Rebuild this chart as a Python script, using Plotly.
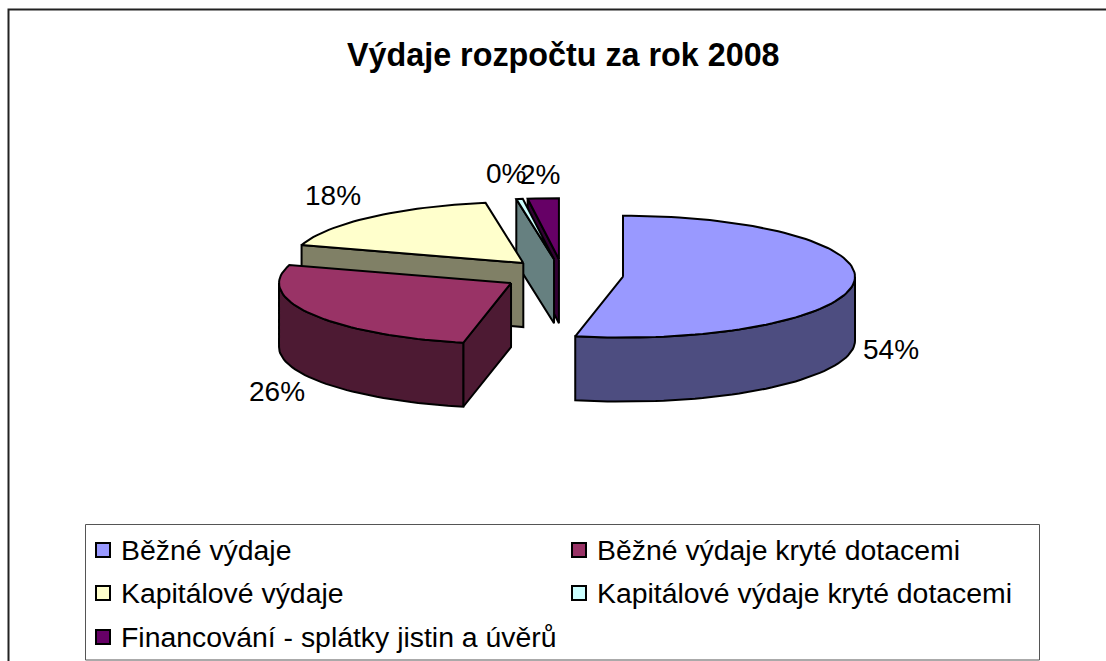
import math
import plotly.graph_objects as go

# ---- data ----
categories = ["Běžné výdaje", "Běžné výdaje kryté dotacemi", "Kapitálové výdaje",
              "Kapitálové výdaje kryté dotacemi", "Financování - splátky jistin a úvěrů"]
values = [53.3, 26.45, 17.65, 0.45, 2.15]
top_colors = ["#9999FF", "#993366", "#FFFFCC", "#CCFFFF", "#660066"]
side_colors = ["#4D4D80", "#4D1A33", "#808066", "#668080", "#330033"]
title_text = "Výdaje rozpočtu za rok 2008"

# ---- projection of the tilted pie (axis units = page pixels) ----
CX, CY = 563, 275
RX, RY = 232, 61
DEPTH = 64
EXPLODE = 0.26
FONT = "Liberation Sans, Arial, sans-serif"

def pt(c, a, dy=0):
    r = math.radians(a)
    return c[0] + RX * math.sin(r), c[1] - RY * math.cos(r) + dy

def arc(c, a0, a1, dy=0):
    n = max(2, int(abs(a1 - a0) / 2) + 2)
    return [pt(c, a0 + (a1 - a0) * i / (n - 1), dy) for i in range(n)]

fig = go.Figure()

def poly(points, color):
    xs = [p[0] for p in points] + [points[0][0]]
    ys = [p[1] for p in points] + [points[0][1]]
    fig.add_trace(go.Scatter(x=xs, y=ys, mode="lines", fill="toself", fillcolor=color,
                             line=dict(color="#000000", width=2), hoverinfo="skip",
                             showlegend=False))

total = sum(values)
slices = []
acc = 0.0
for i, v in enumerate(values):
    a0 = acc / total * 360
    acc += v
    a1 = acc / total * 360
    mid = math.radians((a0 + a1) / 2)
    centre = (CX + EXPLODE * RX * math.sin(mid), CY - EXPLODE * RY * math.cos(mid))
    slices.append((i, a0, a1, centre))

# painter's order: back to front
for i, a0, a1, c in [slices[4], slices[3], slices[2], slices[1], slices[0]]:
    if 180 < a0 < 360:   # cut face at slice start
        s = pt(c, a0)
        poly([c, s, (s[0], s[1] + DEPTH), (c[0], c[1] + DEPTH)], side_colors[i])
    w0, w1 = max(a0, 90), min(a1, 270)
    if w1 > w0:          # outer wall
        poly(arc(c, w0, w1) + arc(c, w1, w0, DEPTH), side_colors[i])
    poly([c] + arc(c, a0, a1), top_colors[i])

# ---- percentage labels ----
pct_labels = ["54%", "26%", "18%", "0%", "2%"]
label_xy = [(891, 349), (277, 391), (333, 195), (506, 173), (540, 174)]
annotations = [dict(x=x, y=y, text=t, showarrow=False, xanchor="center", yanchor="middle",
                    font=dict(family=FONT, size=28, color="#000000"))
               for t, (x, y) in zip(pct_labels, label_xy)]

# ---- title ----
annotations.append(dict(x=563, y=55, text=f"<b>{title_text}</b>", showarrow=False,
                        xanchor="center", yanchor="middle",
                        font=dict(family=FONT, size=32.3, color="#000000")))

# ---- legend, two columns ----
legend_cols = [103, 579]
legend_rows = [550, 593, 637]
for n, name in enumerate(categories):
    lx = legend_cols[n % 2]
    ly = legend_rows[n // 2]
    fig.add_trace(go.Scatter(x=[lx], y=[ly], mode="markers", name=name, showlegend=False,
                             hoverinfo="skip",
                             marker=dict(symbol="square", size=14, color=top_colors[n],
                                         line=dict(color="#000000", width=2))))
    annotations.append(dict(x=lx + 16, y=ly, text=name, showarrow=False, xanchor="left",
                            yanchor="middle", font=dict(family=FONT, size=28.4, color="#000000")))

shapes = [
    dict(type="rect", x0=8.5, y0=9.5, x1=1300, y1=800, line=dict(color="#222222", width=2),
         fillcolor="rgba(0,0,0,0)", layer="below"),
    dict(type="rect", x0=85.5, y0=524.5, x1=1039.5, y1=660, line=dict(color="#555555", width=1),
         fillcolor="#FFFFFF", layer="below"),
]

fig.update_layout(
    width=1106, height=661, margin=dict(l=0, r=0, t=0, b=0),
    paper_bgcolor="#FFFFFF", plot_bgcolor="#FFFFFF", showlegend=False,
    xaxis=dict(range=[0, 1106], visible=False, fixedrange=True),
    yaxis=dict(range=[661, 0], visible=False, fixedrange=True),
    annotations=annotations, shapes=shapes,
)
fig.write_html("out.html", config=dict(displayModeBar=False),
               post_script="document.body.style.margin='0';document.body.style.overflow='hidden';")
